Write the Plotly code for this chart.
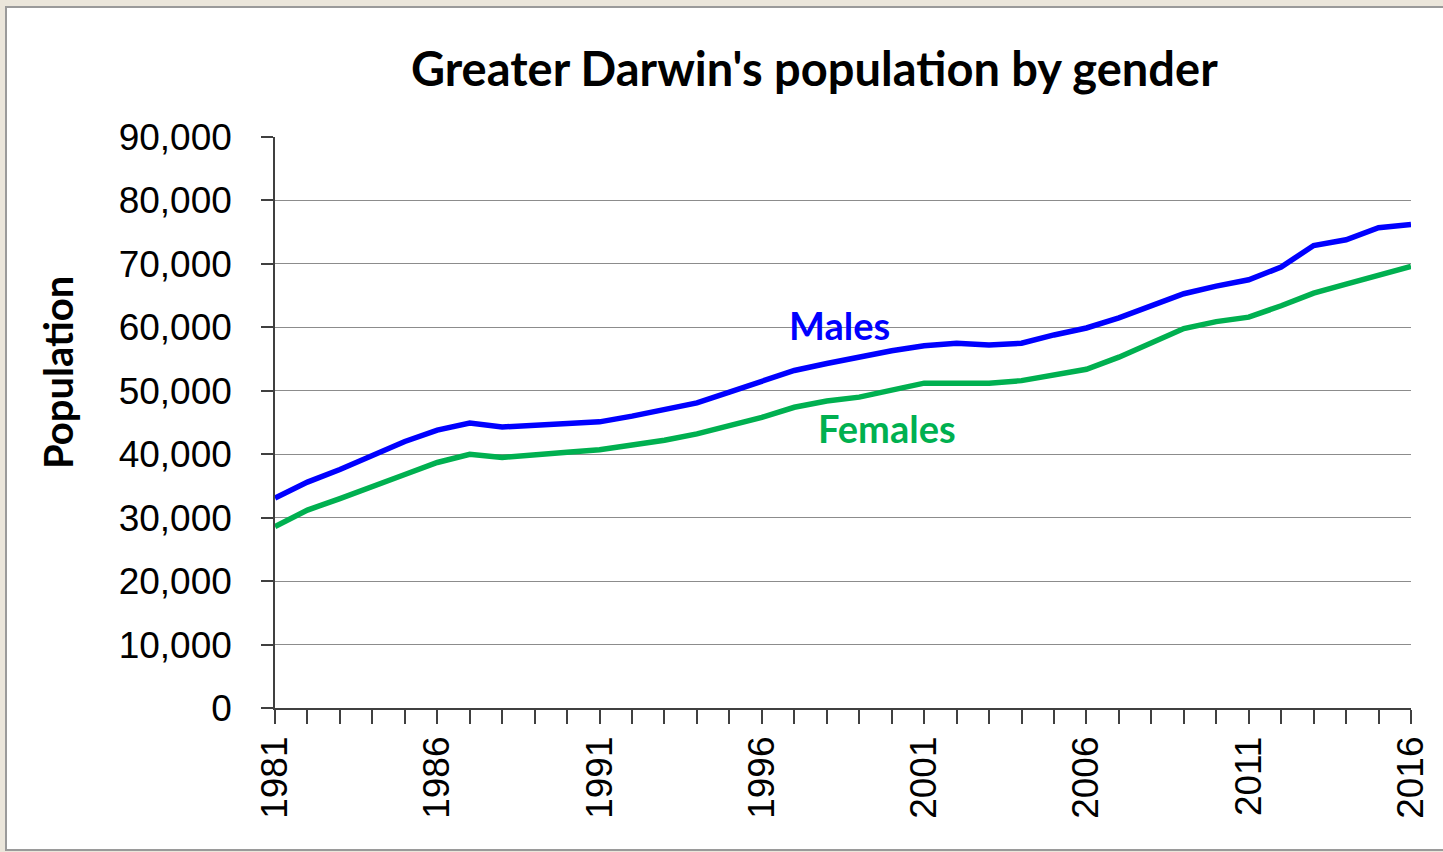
import plotly.graph_objects as go

years = list(range(1981, 2017))
males = [33100, 35600, 37600, 39700, 42000, 43800, 44900, 44300, 44500, 44900,
         45100, 46000, 47000, 48100, 49800, 51400, 53200, 54300, 55400, 56300,
         57100, 57500, 57200, 57500, 58800, 59900, 61500, 63400, 65300, 66500,
         67500, 69500, 72900, 73800, 75700, 76200]
females = [28600, 31200, 33000, 34800, 36800, 38700, 40000, 39500, 39800, 40300,
           40700, 41400, 42200, 43200, 44500, 45800, 47400, 48400, 49000, 50100,
           51200, 51200, 51200, 51600, 52500, 53400, 55300, 57500, 59800, 60900,
           61600, 63400, 65400, 66800, 68200, 69600]
tick_labels = [str(y) if (y - 1981) % 5 == 0 else "" for y in years]
title_text = "Greater Darwin's population by gender"

L, R, T, B = 275, 32, 137, 144
W, H = 1443, 852
pw, ph = W - L - R, H - T - B

def px_x(p):
    return (p - L) / pw

def px_y(p):
    return (H - B - p) / ph

fig = go.Figure()
fig.add_trace(go.Scatter(x=years, y=females, mode="lines", name="Females",
                         line=dict(color="#00B050", width=5.5)))
fig.add_trace(go.Scatter(x=years, y=males, mode="lines", name="Males",
                         line=dict(color="#0000FF", width=5.5)))

fig.update_layout(
    width=W, height=H,
    margin=dict(l=L, r=R, t=T, b=B, pad=0),
    paper_bgcolor="#ebe6db",
    plot_bgcolor="white",
    showlegend=False,
    font=dict(family="Liberation Sans, Arial", color="black"),
)
fig.update_xaxes(
    range=[1981, 2016], tickmode="array", tickvals=years, ticktext=tick_labels,
    tickangle=-90, ticks="outside", ticklen=14, tickcolor="#404040", tickwidth=1.5,
    showline=True, linecolor="#404040", linewidth=1.5, showgrid=False, zeroline=False,
    tickfont=dict(size=37, family="Liberation Sans, Arial", color="black"),
    ticklabelstandoff=-2,
)
fig.update_yaxes(
    range=[0, 90000], dtick=10000, tickformat=",", ticks="outside", ticklen=12,
    tickcolor="#404040", tickwidth=1.5, showline=True, linecolor="#404040", linewidth=1.5,
    showgrid=True, gridcolor="#8c8c8c", gridwidth=1, zeroline=False,
    tickfont=dict(size=37, family="Liberation Sans, Arial", color="black"),
    ticklabelstandoff=22,
)

# white chart box with gray border
fig.add_shape(type="rect", xref="paper", yref="paper",
              x0=px_x(6), x1=px_x(1460), y0=px_y(850), y1=px_y(7),
              fillcolor="white", line=dict(color="#9a9a9a", width=2), layer="below")

fig.add_annotation(xref="paper", yref="paper", x=px_x(814), y=px_y(68),
                   text="<b>" + title_text + "</b>", showarrow=False,
                   font=dict(family="Lato", size=47, color="black"),
                   xanchor="center", yanchor="middle")
fig.add_annotation(xref="paper", yref="paper", x=px_x(58), y=px_y(373),
                   text="<b>Population</b>", showarrow=False, textangle=-90,
                   font=dict(family="Lato", size=40, color="black"),
                   xanchor="center", yanchor="middle")
fig.add_annotation(x=1998.38, y=60400, text="<b>Males</b>", showarrow=False,
                   font=dict(family="Lato", size=38, color="#0000FF"),
                   xanchor="center", yanchor="middle")
fig.add_annotation(x=1999.86, y=44100, text="<b>Females</b>", showarrow=False,
                   font=dict(family="Lato", size=38, color="#00B050"),
                   xanchor="center", yanchor="middle")

fig.write_html("out.html", config={"displayModeBar": False},
               post_script="document.body.style.margin='0';document.body.style.background='#ebe6db';")
